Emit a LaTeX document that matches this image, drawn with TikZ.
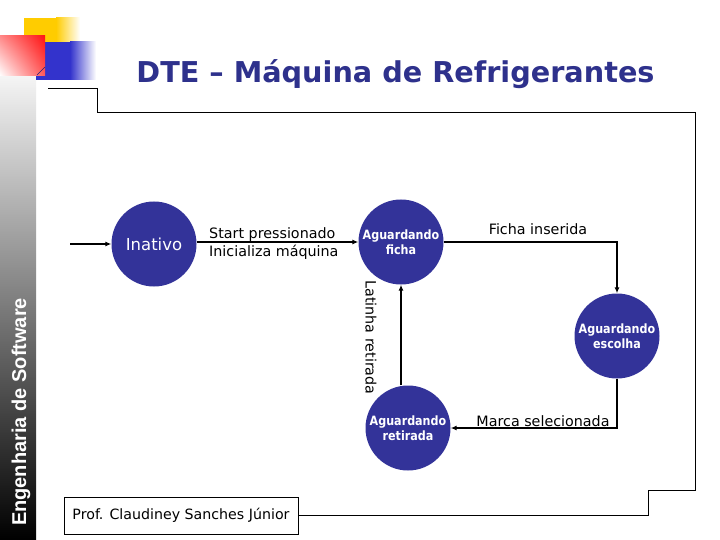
\documentclass[tikz,border=0pt]{standalone}
\usepackage{fontspec}
\setmainfont{DejaVu Sans}
\newfontfamily\sidefont{Liberation Sans}
\newfontfamily\nodefont[FakeStretch=0.87]{DejaVu Sans}
\usetikzlibrary{arrows.meta,shadings}
\definecolor{navy}{RGB}{51,51,153}
\definecolor{titleblue}{RGB}{46,49,140}
\definecolor{logoyellow}{RGB}{255,204,0}
\definecolor{logoblue}{RGB}{51,51,204}
\definecolor{logored}{RGB}{255,20,20}
\begin{document}
\begin{tikzpicture}[x=1pt,y=-1pt,
  state/.style={circle,fill=navy,minimum size=85pt,inner sep=0pt,text=white,align=center,
    font=\nodefont\bfseries\fontsize{12.8}{15.5}\selectfont},
  edge/.style={draw=black,line width=1.4pt,-{Latex[length=6pt,width=5pt]}},
  lab/.style={font=\fontsize{14.3}{17}\selectfont,inner sep=0pt},
  frame/.style={draw=black,line width=0.9pt}]
\useasboundingbox (0,0) rectangle (720,540);
\fill[white] (0,0) rectangle (720,540);
% sidebar
\shade[top color=black!4, middle color=black!42, bottom color=black] (0,76) rectangle (36,540);
\node[rotate=90,text=white,font=\sidefont\bfseries\fontsize{20}{20}\selectfont] (side) at (21,412) {Engenharia de Software};
% logo
\fill[logoyellow] (24,18) rectangle (56,44);
\shade[left color=logoyellow,right color=white] (56,18) rectangle (80,44);
\fill[logoblue] (36,42) rectangle (70,80);
\shade[left color=logoblue,right color=white] (70,42) rectangle (96,80);
\shade[upper left=logored!50!white,upper right=logored,lower left=white,lower right=logored!70!white] (0,36) rectangle (45,76);
\draw[logoblue!60!black,line width=0.6pt] (37,75) -- (45,67);
% title
\node[font=\bfseries\fontsize{28.7}{32}\selectfont,text=titleblue,anchor=base] (title) at (395.5,83) {DTE – Máquina de Refrigerantes};
% author box and frame
\node[frame,minimum width=234pt,minimum height=37pt,inner sep=0pt,font=\fontsize{14.2}{16}\selectfont] (author) at (181,515.5) {Prof. Claudiney Sanches Júnior};
\coordinate (f1) at (48,88);
\draw[frame] (f1) -- (97,88) -- (97,112) -- (695,112) -- (695,490) -- (648,490) -- (648,515.5) -- (author.east);
% states
\node[state,font=\fontsize{16.5}{18}\selectfont] (inativo) at (154,244) {Inativo};
\node[state] (ficha) at (401,242) {Aguardando\\ficha};
\node[state] (escolha) at (617,336) {Aguardando\\escolha};
\node[state] (retirada) at (408,428) {Aguardando\\retirada};
% transitions
\coordinate (start) at (70,244);
\draw[edge] (start) -- (inativo);
\draw[edge] (inativo.east |- ficha) -- (ficha.west);
\node[lab,anchor=base west] (l1a) at (209,239) {Start pressionado};
\node[lab,anchor=base west] (l1b) at (209,256) {Inicializa máquina};
\draw[edge] (ficha.east) -| (escolha.north);
\node[lab,anchor=base] (l2) at (538,235) {Ficha inserida};
\draw[edge] (escolha.south) |- (retirada.east);
\node[lab,anchor=base] (l3) at (543,426) {Marca selecionada};
\draw[edge] (retirada.north -| ficha.south) -- (ficha.south);
\node[lab,rotate=-90] (l4) at (371,337.5) {Latinha retirada};
\end{tikzpicture}
\end{document}
